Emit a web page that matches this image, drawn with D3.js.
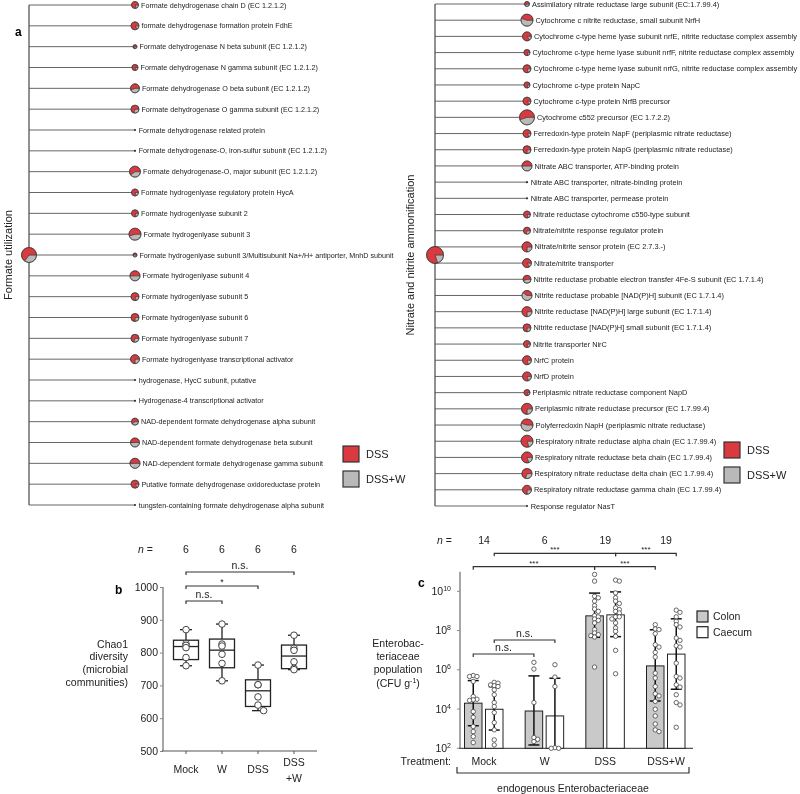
<!DOCTYPE html>
<html><head><meta charset="utf-8">
<script src="https://cdn.jsdelivr.net/npm/d3@7"></script>
<style>body{margin:0;background:#fff}svg{display:block;font-family:"Liberation Sans",Arial,Helvetica,sans-serif;will-change:transform;-webkit-font-smoothing:antialiased}</style>
</head><body><svg id="c" width="800" height="794"></svg>
<script>
// ---------- Panel a data ----------
const formateLeaves = ["Formate dehydrogenase chain D (EC 1.2.1.2)","formate dehydrogenase formation protein FdhE","Formate dehydrogenase N beta subunit (EC 1.2.1.2)","Formate dehydrogenase N gamma subunit (EC 1.2.1.2)","Formate dehydrogenase O beta subunit (EC 1.2.1.2)","Formate dehydrogenase O gamma subunit (EC 1.2.1.2)","Formate dehydrogenase related protein","Formate dehydrogenase-O, iron-sulfur subunit (EC 1.2.1.2)","Formate dehydrogenase-O, major subunit (EC 1.2.1.2)","Formate hydrogenlyase regulatory protein HycA","Formate hydrogenlyase subunit 2","Formate hydrogenlyase subunit 3","Formate hydrogenlyase subunit 3/Multisubunit Na+/H+ antiporter, MnhD subunit","Formate hydrogenlyase subunit 4","Formate hydrogenlyase subunit 5","Formate hydrogenlyase subunit 6","Formate hydrogenlyase subunit 7","Formate hydrogenlyase transcriptional activator","hydrogenase, HycC subunit, putative","Hydrogenase-4 transcriptional activator","NAD-dependent formate dehydrogenase alpha subunit","NAD-dependent formate dehydrogenase beta subunit","NAD-dependent formate dehydrogenase gamma subunit","Putative formate dehydrogenase oxidoreductase protein","tungsten-containing formate dehydrogenase alpha subunit"];
const formateAbundance = [17,22,5.5,12.5,28,22,1.4,1.4,42,17,17,50,5.5,35,22,22,22,28,1.4,1.4,17,28,35,22,1.4];
const formateDSSShare = [0.8,0.85,0.7,0.8,0.55,0.7,0.5,0.5,0.6,0.8,0.8,0.55,0.5,0.5,0.8,0.75,0.7,0.75,0.5,0.5,0.6,0.5,0.5,0.85,0.5];
const formateRoot = {abundance:78, share:0.65};

const nitrateLeaves = ["Assimilatory nitrate reductase large subunit (EC:1.7.99.4)","Cytochrome c nitrite reductase, small subunit NrfH","Cytochrome c-type heme lyase subunit nrfE, nitrite reductase complex assembly","Cytochrome c-type heme lyase subunit nrfF, nitrite reductase complex assembly","Cytochrome c-type heme lyase subunit nrfG, nitrite reductase complex assembly","Cytochrome c-type protein NapC","Cytochrome c-type protein NrfB precursor","Cytochrome c552 precursor (EC 1.7.2.2)","Ferredoxin-type protein NapF (periplasmic nitrate reductase)","Ferredoxin-type protein NapG (periplasmic nitrate reductase)","Nitrate ABC transporter, ATP-binding protein","Nitrate ABC transporter, nitrate-binding protein","Nitrate ABC transporter, permease protein","Nitrate reductase cytochrome c550-type subunit","Nitrate/nitrite response regulator protein","Nitrate/nitrite sensor protein (EC 2.7.3.-)","Nitrate/nitrite transporter","Nitrite reductase probable electron transfer 4Fe-S subunit (EC 1.7.1.4)","Nitrite reductase probable [NAD(P)H] subunit (EC 1.7.1.4)","Nitrite reductase [NAD(P)H] large subunit (EC 1.7.1.4)","Nitrite reductase [NAD(P)H] small subunit (EC 1.7.1.4)","Nitrite transporter NirC","NrfC protein","NrfD protein","Periplasmic nitrate reductase component NapD","Periplasmic nitrate reductase precursor (EC 1.7.99.4)","Polyferredoxin NapH (periplasmic nitrate reductase)","Respiratory nitrate reductase alpha chain (EC 1.7.99.4)","Respiratory nitrate reductase beta chain (EC 1.7.99.4)","Respiratory nitrate reductase delta chain (EC 1.7.99.4)","Respiratory nitrate reductase gamma chain (EC 1.7.99.4)","Response regulator NasT"];
const nitrateAbundance = [8.7,50,28,12.5,22,12.5,22,78,22,22,35,1.4,1.4,17,17,35,28,22,35,35,22,17,28,28,12.5,42,50,50,42,35,28,1.4];
const nitrateDSSShare = [0.6,0.45,0.85,0.8,0.8,0.8,0.85,0.55,0.85,0.75,0.5,0.5,0.5,0.8,0.7,0.75,0.85,0.55,0.4,0.75,0.75,0.8,0.8,0.8,0.8,0.75,0.45,0.8,0.8,0.7,0.75,0.5];
const nitrateRoot = {abundance:100, share:0.8};
const pieLegend = ["DSS","DSS+W"];

// ---------- Panel b data ----------
const chaoGroups = ["Mock","W","DSS","DSS+W"];
const chaoN = [6,6,6,6];
const chaoMock = [870,827,822,815,785,760];
const chaoW = [887,826,820,795,767,714];
const chaoDSS = [762,702,702,665,640,623];
const chaoDSSW = [853,813,807,772,752,748];
const chaoTicks = [500,600,700,800,900,1000];

// ---------- Panel c data (log10 CFU/g) ----------
const entGroups = ["Mock","W","DSS","DSS+W"];
const entN = [14,6,19,19];
const colonGeoMean = [4.30,3.90,8.75,6.20];
const colonUpper = [5.45,5.69,9.91,8.04];
const colonLower = [3.15,2.17,7.66,4.41];
const caecumGeoMean = [3.99,3.65,8.80,6.80];
const caecumUpper = [5.14,5.57,9.97,8.60];
const caecumLower = [2.93,2.02,7.69,5.01];
const colonMock = [5.71,5.66,5.66,5.41,4.64,4.50,4.47,4.44,3.87,3.58,3.11,2.85,2.60,2.29];
const caecumMock = [5.36,5.32,5.23,5.19,5.15,4.98,4.73,4.33,4.13,3.82,3.31,2.94,2.43,2.17];
const colonW = [6.38,6.04,4.33,2.55,2.46,2.34];
const caecumW = [6.26,5.63,5.15,2.03,2.0,2.0];
const colonDSS = [10.86,10.52,9.75,9.67,9.50,9.27,9.10,8.98,8.76,8.70,8.59,8.52,8.39,8.05,7.88,7.79,7.74,7.67,6.14];
const caecumDSS = [10.57,10.52,9.92,9.67,9.50,9.38,9.16,9.07,8.98,8.90,8.70,8.70,8.59,8.39,8.13,7.96,7.71,6.99,5.80];
const colonDSSW = [8.30,8.08,8.05,7.84,7.28,7.16,6.89,6.65,5.83,5.58,5.15,4.78,4.67,4.39,3.99,3.65,3.24,2.94,2.85];
const caecumDSSW = [9.04,8.93,8.70,8.47,8.30,8.18,7.62,7.50,7.23,7.16,6.34,5.66,5.58,5.24,5.12,4.73,4.33,4.21,3.07];
const entTickExp = [2,4,6,8,10];
const tissues = ["Colon","Caecum"];

// ---------- drawing ----------
const svg = d3.select("#c");
const INK = "#222", RED = "#d93a3f", GREY = "#b9b9b9";
const rScale = d3.scaleSqrt().domain([0,100]).range([0,8.5]);

function drawPie(g, cx, cy, r, s) {
  if (r < 1.5) { g.append("circle").attr("cx",cx).attr("cy",cy).attr("r",1.1).attr("fill","#333"); return; }
  const arcs = d3.pie().sort(null).startAngle(Math.PI/2).endAngle(Math.PI/2+2*Math.PI)([1-s, s]);
  const arc = d3.arc().innerRadius(0).outerRadius(r);
  const pg = g.append("g").attr("transform",`translate(${cx},${cy})`);
  pg.selectAll("path").data(arcs).join("path").attr("d",arc)
    .attr("fill",(d,i)=>i?RED:GREY).attr("stroke","#333").attr("stroke-width",0.5);
  pg.append("circle").attr("r",r).attr("fill","none").attr("stroke","#3a3a3a").attr("stroke-width",0.7);
}

function tree(leaves, abund, share, root, o) {
  const y = d3.scalePoint().domain(leaves).range([o.y0,o.y1]);
  const g = svg.append("g");
  const ym = (o.y0+o.y1)/2;
  g.append("line").attr("x1",o.rootX).attr("x2",o.rootX).attr("y1",o.y0).attr("y2",o.y1).attr("stroke","#222").attr("stroke-width",1);
  leaves.forEach((name,i)=>{
    const yy = y(name);
    g.append("line").attr("x1",o.rootX).attr("x2",o.leafX).attr("y1",yy).attr("y2",yy).attr("stroke","#555").attr("stroke-width",0.9);
  });
  leaves.forEach((name,i)=>{
    const yy = y(name), r = rScale(abund[i]);
    drawPie(g, o.leafX, yy, r, share[i]);
    g.append("text").attr("x",o.leafX+Math.max(r,1.2)+2.5).attr("y",yy).attr("dy","0.35em")
      .attr("font-size",o.fs).attr("fill",INK).text(name);
  });
  drawPie(g, o.rootX, ym, rScale(root.abundance), root.share);
  g.append("text").attr("transform",`translate(${o.titleX},${ym}) rotate(-90)`).attr("text-anchor","middle")
    .attr("dy","0.35em").attr("font-size",11).attr("fill",INK).text(o.title);
  pieLegend.forEach((lab,i)=>{
    const ly = o.legY + i*25;
    g.append("rect").attr("x",o.legX).attr("y",ly).attr("width",16).attr("height",16)
      .attr("fill",i?GREY:RED).attr("stroke","#333").attr("stroke-width",1.2);
    g.append("text").attr("x",o.legX+23).attr("y",ly+8).attr("dy","0.35em").attr("font-size",11).attr("fill",INK).text(lab);
  });
}

tree(formateLeaves, formateAbundance, formateDSSShare, formateRoot,
  {y0:5,y1:505,rootX:29,leafX:135,fs:7.2,titleX:8,title:"Formate utilization",legX:343,legY:446});
tree(nitrateLeaves, nitrateAbundance, nitrateDSSShare, nitrateRoot,
  {y0:4,y1:506,rootX:435,leafX:527,fs:7.4,titleX:410,title:"Nitrate and nitrite ammonification",legX:724,legY:442});

svg.append("text").attr("x",15).attr("y",32).attr("dy","0.35em").attr("font-weight","bold").attr("font-size",12).text("a");
svg.append("text").attr("x",115).attr("y",590).attr("dy","0.35em").attr("font-weight","bold").attr("font-size",12).text("b");
svg.append("text").attr("x",418).attr("y",583).attr("dy","0.35em").attr("font-weight","bold").attr("font-size",12).text("c");

function swarm(ys, r, maxOff, tol) {
  const order = ys.map((v,i)=>i).sort((a,b)=>ys[a]-ys[b]);
  const xs = new Array(ys.length).fill(0), placed = [];
  const step = r*1.7;
  order.forEach(i=>{
    const cands=[0]; for(let k=1;k<=8;k++){cands.push(k*step,-k*step);}
    let chosen = 0;
    for (const c of cands) {
      if (Math.abs(c) > maxOff) continue;
      if (placed.every(p => Math.hypot(p[0]-c, p[1]-ys[i]) >= 2*r*tol)) { chosen = c; break; }
    }
    xs[i] = chosen; placed.push([chosen, ys[i]]);
  });
  return xs;
}

function bracket(g, x1, x2, y, label, fs, ly) {
  g.append("path").attr("d",`M${x1},${y+3}V${y}H${x2}V${y+3}`).attr("fill","none").attr("stroke","#333").attr("stroke-width",1.2);
  g.append("text").attr("x",(x1+x2)/2).attr("y",ly).attr("text-anchor","middle").attr("font-size",fs).attr("fill",INK).text(label);
}

// ---------- Panel b ----------
(function(){
  const g = svg.append("g");
  const x = d3.scalePoint().domain(chaoGroups).range([186,294]);
  const y = d3.scaleLinear().domain([500,1000]).range([751,587]);
  const data = [chaoMock, chaoW, chaoDSS, chaoDSSW];
  const q = (s,p)=>{ const pos=(s.length+1)*p-1, lo=Math.floor(pos); return s[lo]+(pos-lo)*(s[lo+1]-s[lo]); };
  const ya = d3.axisLeft(y).tickValues(chaoTicks).tickFormat(d3.format("d")).tickSize(3).tickPadding(2);
  const yg = g.append("g").attr("transform","translate(163,0)").call(ya);
  yg.select(".domain").attr("stroke","#888").attr("stroke-width",1.5).attr("d","M0,587V751");
  yg.selectAll(".tick line").attr("stroke","#888");
  yg.selectAll("text").attr("font-size",10.5).attr("fill",INK).attr("font-family","Liberation Sans, Arial");
  g.append("line").attr("x1",162).attr("x2",317).attr("y1",751).attr("y2",751).attr("stroke","#555").attr("stroke-width",1.2);
  chaoGroups.forEach(c=>g.append("line").attr("x1",x(c)).attr("x2",x(c)).attr("y1",751).attr("y2",754).attr("stroke","#555"));
  chaoGroups.forEach((c,i)=>{
    const lines = c==="DSS+W" ? ["DSS","+W"] : [c];
    lines.forEach((t,j)=>g.append("text").attr("x",x(c)).attr("y",lines.length>1?762+j*16:769).attr("dy","0.35em")
      .attr("text-anchor","middle").attr("font-size",10.5).attr("fill",INK).text(t));
    g.append("text").attr("x",x(c)).attr("y",549).attr("dy","0.35em").attr("text-anchor","middle").attr("font-size",10.5).attr("fill",INK).text(chaoN[i]);
  });
  const nt = g.append("text").attr("x",138).attr("y",549).attr("dy","0.35em").attr("font-size",10.5).attr("fill",INK);
  nt.append("tspan").attr("font-style","italic").text("n");
  nt.append("tspan").text(" =");
  ["Chao1","diversity","(microbial","communities)"].forEach((t,j)=>g.append("text").attr("x",128).attr("y",644+j*12.7)
    .attr("dy","0.35em").attr("text-anchor","end").attr("font-size",10.5).attr("fill",INK).text(t));
  data.forEach((arr,i)=>{
    const s = arr.slice().sort((a,b)=>a-b), cx = x(chaoGroups[i]);
    const q1=q(s,0.25), q3=q(s,0.75), md=q(s,0.5), mn=s[0], mx=s[s.length-1];
    const L=(x1,y1,x2,y2)=>g.append("line").attr("x1",x1).attr("y1",y1).attr("x2",x2).attr("y2",y2).attr("stroke","#222").attr("stroke-width",1.3);
    L(cx,y(mx),cx,y(q3)); L(cx,y(mn),cx,y(q1));
    L(cx-6,y(mx),cx+6,y(mx)); L(cx-6,y(mn),cx+6,y(mn));
    g.append("rect").attr("x",cx-12.5).attr("y",y(q3)).attr("width",25).attr("height",y(q1)-y(q3)).attr("fill","#fff").attr("stroke","#222").attr("stroke-width",1.3);
    L(cx-12.5,y(md),cx+12.5,y(md));
    const ys = arr.map(v=>y(v)), xs = swarm(ys,3.3,10,0.95);
    arr.forEach((v,k)=>g.append("circle").attr("cx",cx+xs[k]).attr("cy",ys[k]).attr("r",3.3).attr("fill","#fff").attr("stroke","#444").attr("stroke-width",1));
  });
  bracket(g, x("Mock"), x("DSS+W"), 572, "n.s.", 10.5, 569);
  bracket(g, x("Mock"), x("DSS"), 586, "*", 9, 585);
  bracket(g, x("Mock"), x("W"), 601, "n.s.", 10.5, 598);
})();

// ---------- Panel c ----------
(function(){
  const g = svg.append("g");
  const x = d3.scalePoint().domain(entGroups).range([484,666]);
  const y = d3.scaleLog().domain([1e2,1e11]).range([748.3,571.7]);
  const P = e => Math.pow(10,e);
  const bw = 17.5;
  const off = {Colon:-19.5, Caecum:1.5};
  g.append("line").attr("x1",460).attr("x2",460).attr("y1",571.7).attr("y2",748.3).attr("stroke","#888").attr("stroke-width",1.5);
  entTickExp.forEach(e=>{
    const yy = y(P(e));
    g.append("line").attr("x1",457).attr("x2",460).attr("y1",yy).attr("y2",yy).attr("stroke","#888");
    const t = g.append("text").attr("x",451).attr("y",yy).attr("dy","0.35em").attr("text-anchor","end").attr("font-size",10.5).attr("fill",INK);
    t.append("tspan").text("10");
    t.append("tspan").attr("dy",-4).attr("font-size",7).text(e);
  });
  g.append("line").attr("x1",459).attr("x2",693).attr("y1",748.3).attr("y2",748.3).attr("stroke","#555").attr("stroke-width",1.2);
  const sets = {Colon:[colonMock,colonW,colonDSS,colonDSSW], Caecum:[caecumMock,caecumW,caecumDSS,caecumDSSW]};
  const means = {Colon:colonGeoMean, Caecum:caecumGeoMean};
  const ups = {Colon:colonUpper, Caecum:caecumUpper};
  const lows = {Colon:colonLower, Caecum:caecumLower};
  tissues.forEach(t=>{
    entGroups.forEach((gr,i)=>{
      const bx = x(gr)+off[t];
      g.append("rect").attr("x",bx).attr("y",y(P(means[t][i]))).attr("width",bw).attr("height",748.3-y(P(means[t][i])))
        .attr("fill",t==="Colon"?"#c9c9c9":"#fff").attr("stroke","#222").attr("stroke-width",1);
    });
  });
  tissues.forEach(t=>{
    entGroups.forEach((gr,i)=>{
      const cx = x(gr)+off[t]+bw/2;
      const yu = y(P(ups[t][i])), yl = y(P(lows[t][i]));
      g.append("line").attr("x1",cx).attr("x2",cx).attr("y1",yu).attr("y2",yl).attr("stroke","#111").attr("stroke-width",1.5);
      [yu,yl].forEach(yy=>g.append("line").attr("x1",cx-5.5).attr("x2",cx+5.5).attr("y1",yy).attr("y2",yy).attr("stroke","#111").attr("stroke-width",1.5));
      const arr = sets[t][i], ys = arr.map(v=>y(P(v))), xs = swarm(ys,2.2,7,0.7);
      arr.forEach((v,k)=>g.append("circle").attr("cx",cx+xs[k]).attr("cy",ys[k]).attr("r",2.2).attr("fill","#fff").attr("stroke","#444").attr("stroke-width",0.8));
    });
  });
  const nt = g.append("text").attr("x",437).attr("y",540).attr("dy","0.35em").attr("font-size",10.5).attr("fill",INK);
  nt.append("tspan").attr("font-style","italic").text("n");
  nt.append("tspan").text(" =");
  entGroups.forEach((gr,i)=>g.append("text").attr("x",x(gr)).attr("y",540).attr("dy","0.35em").attr("text-anchor","middle").attr("font-size",10.5).attr("fill",INK).text(entN[i]));
  const bc = (gr,t)=>x(gr)+off[t]+bw/2;
  bracket(g, bc("Mock","Caecum"), bc("DSS","Caecum"), 553.3, "***", 8, 552);
  bracket(g, bc("DSS","Caecum"), bc("DSS+W","Caecum"), 553.3, "***", 8, 552);
  bracket(g, bc("Mock","Colon"), bc("DSS","Colon"), 566.7, "***", 8, 565.5);
  bracket(g, bc("DSS","Colon"), bc("DSS+W","Colon"), 566.7, "***", 8, 565.5);
  bracket(g, bc("Mock","Caecum"), bc("W","Caecum"), 640, "n.s.", 10.5, 637);
  bracket(g, bc("Mock","Colon"), bc("W","Colon"), 654, "n.s.", 10.5, 651);
  entGroups.forEach(gr=>g.append("text").attr("x",x(gr)).attr("y",761).attr("dy","0.35em").attr("text-anchor","middle").attr("font-size",10.5).attr("fill",INK).text(gr));
  g.append("text").attr("x",451).attr("y",761).attr("dy","0.35em").attr("text-anchor","end").attr("font-size",10.5).attr("fill",INK).text("Treatment:");
  g.append("path").attr("d","M457,767V773H689V767").attr("fill","none").attr("stroke","#333").attr("stroke-width",1.2);
  g.append("text").attr("x",573).attr("y",788).attr("dy","0.35em").attr("text-anchor","middle").attr("font-size",10.5).attr("fill",INK).text("endogenous Enterobacteriaceae");
  ["Enterobac-","teriaceae","population"].forEach((t,j)=>g.append("text").attr("x",398).attr("y",643+j*13.3).attr("dy","0.35em").attr("text-anchor","middle").attr("font-size",10.5).attr("fill",INK).text(t));
  const cl = g.append("text").attr("x",398).attr("y",683).attr("dy","0.35em").attr("text-anchor","middle").attr("font-size",10.5).attr("fill",INK);
  cl.append("tspan").text("(CFU g");
  cl.append("tspan").attr("dy",-4).attr("font-size",7).text("-1");
  cl.append("tspan").attr("dy",4).text(")");
  tissues.forEach((t,i)=>{
    const ly = 611 + i*15.7;
    g.append("rect").attr("x",697).attr("y",ly).attr("width",11).attr("height",11).attr("fill",i?"#fff":"#c9c9c9").attr("stroke","#222").attr("stroke-width",1.2);
    g.append("text").attr("x",713).attr("y",ly+5.5).attr("dy","0.35em").attr("font-size",10.5).attr("fill",INK).text(t);
  });
})();
</script></body></html>
